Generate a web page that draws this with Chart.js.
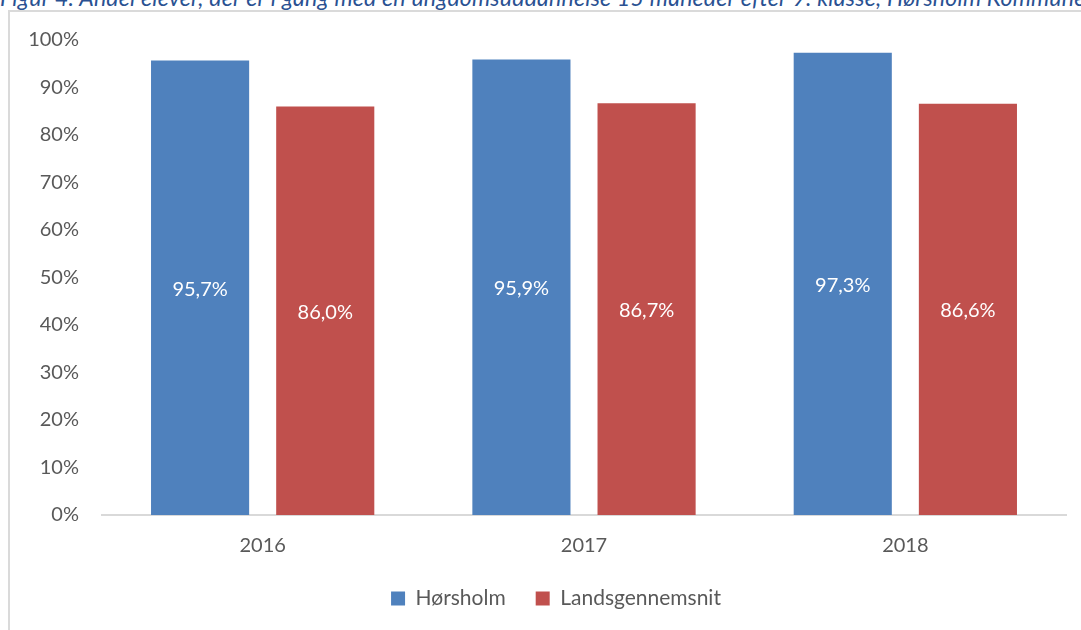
<!DOCTYPE html>
<html>
<head>
<meta charset="utf-8">
<script src="https://cdn.jsdelivr.net/npm/chart.js@4.4.1/dist/chart.umd.min.js"></script>
<style>
  html, body { margin: 0; padding: 0; background: #fff; overflow: hidden; }
  body { width: 1081px; height: 630px; position: relative; }
  #title { position: absolute; left: 0; top: -17px; white-space: nowrap;
           font-family: Lato, "Open Sans", sans-serif; font-style: italic; font-size: 23px;
           letter-spacing: 0.25px; color: #2A5192; line-height: 28px; }
  #frame { position: absolute; left: 8px; top: 10px; width: 2000px; height: 2000px;
           border-left: 2px solid #DADADA; border-top: 2px solid #DADADA; }
  #wrap { position: absolute; left: 0; top: 0; width: 1081px; height: 630px; }
</style>
</head>
<body>
<div id="title">Figur 4. Andel elever, der er i gang med en ungdomsuddannelse 15 måneder efter 9. klasse, Hørsholm Kommune</div>
<div id="frame"></div>
<div id="wrap"><canvas id="c" width="1081" height="630"></canvas></div>
<script>
const categories = ["2016", "2017", "2018"];
const seriesNames = ["Hørsholm", "Landsgennemsnit"];
const horsholm = [95.7, 95.9, 97.3];
const landsgennemsnit = [86.0, 86.7, 86.6];
const yTicks = [0, 10, 20, 30, 40, 50, 60, 70, 80, 90, 100];

const FONT = "Lato, 'Open Sans', sans-serif";
const GREY = "#595959";

const valueLabels = {
  id: "valueLabels",
  afterDatasetsDraw(chart) {
    const ctx = chart.ctx;
    ctx.save();
    ctx.fillStyle = "#FFFFFF";
    ctx.font = "20px " + FONT;
    ctx.textAlign = "center";
    ctx.textBaseline = "middle";
    chart.data.datasets.forEach((ds, di) => {
      const meta = chart.getDatasetMeta(di);
      meta.data.forEach((bar, i) => {
        const v = ds.data[i];
        const txt = v.toFixed(1).replace(".", ",") + "%";
        ctx.fillText(txt, bar.x, (bar.y + bar.base) / 2 + 1.5);
      });
    });
    ctx.restore();
  }
};

// centre the legend a little left of the plot-area centre, as in the original
const legendShift = {
  id: "legendShift",
  afterLayout(chart) {
    const lg = chart.legend;
    if (!lg) return;
    const ca = chart.chartArea;
    const d = (ca.left + ca.right) / 2 - 28 - (lg.left + lg.right) / 2;
    lg.left += d;
    lg.right += d;
  }
};

new Chart(document.getElementById("c"), {
  type: "bar",
  data: {
    labels: categories,
    datasets: [
      { label: seriesNames[0], data: horsholm, backgroundColor: "#4F81BD",
        categoryPercentage: 0.779, barPercentage: 0.784 },
      { label: seriesNames[1], data: landsgennemsnit, backgroundColor: "#C0504D",
        categoryPercentage: 0.779, barPercentage: 0.784 }
    ]
  },
  options: {
    responsive: false,
    animation: false,
    devicePixelRatio: 1,
    layout: { padding: { left: 0, right: 15, top: 40, bottom: 11 } },
    plugins: {
      legend: {
        position: "bottom",
        labels: { boxWidth: 14, boxHeight: 14, padding: 30, color: GREY,
                  font: { family: FONT, size: 21 } }
      },
      tooltip: { enabled: false }
    },
    scales: {
      x: {
        grid: { display: false, drawTicks: false },
        border: { display: true, color: "#D9D9D9", width: 2 },
        ticks: { color: GREY, font: { family: FONT, size: 20 }, padding: 19 },
        afterFit(scale) { scale.height = 43; }
      },
      y: {
        min: 0, max: 100,
        grid: { display: false, drawTicks: false },
        border: { display: false },
        afterBuildTicks(scale) { scale.ticks = yTicks.map(v => ({ value: v })); },
        ticks: { color: GREY, font: { family: FONT, size: 20 }, padding: 23,
                 callback: v => v + "%" },
        afterFit(scale) { scale.width = 102; }
      }
    }
  },
  plugins: [valueLabels, legendShift]
});
</script>
</body>
</html>
